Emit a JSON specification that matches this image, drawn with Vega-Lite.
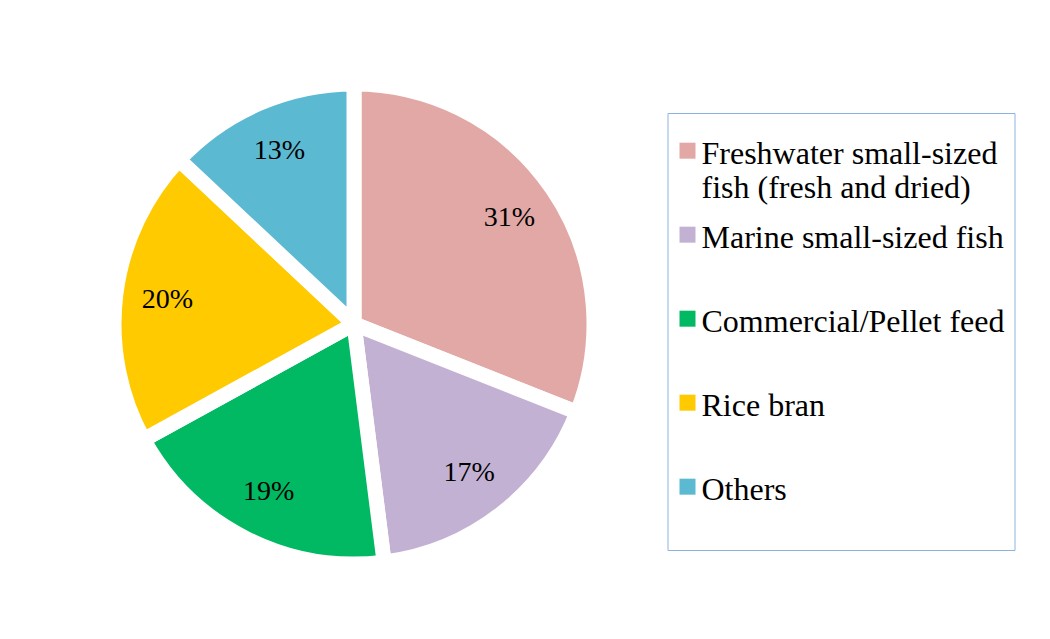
{
  "$schema": "https://vega.github.io/schema/vega-lite/v6.json",
  "autosize": "none",
  "padding": {"left": 0, "top": 0, "right": 342, "bottom": 0},
  "width": 708,
  "height": 648,
  "background": "white",
  "config": {"view": {"stroke": null}},
  "data": {
    "values": [
      {"category": "Freshwater small-sized fish (fresh and dried)", "share": 0.31, "order": 1},
      {"category": "Marine small-sized fish", "share": 0.17, "order": 2},
      {"category": "Commercial/Pellet feed", "share": 0.19, "order": 3},
      {"category": "Rice bran", "share": 0.20, "order": 4},
      {"category": "Others", "share": 0.13, "order": 5}
    ]
  },
  "encoding": {
    "theta": {"field": "share", "type": "quantitative", "stack": true},
    "order": {"field": "order", "type": "quantitative"}
  },
  "layer": [
    {
      "mark": {"type": "arc", "outerRadius": 240, "stroke": "white", "strokeWidth": 15},
      "encoding": {
        "color": {
          "field": "category",
          "type": "nominal",
          "scale": {
            "domain": ["Freshwater small-sized fish (fresh and dried)", "Marine small-sized fish", "Commercial/Pellet feed", "Rice bran", "Others"],
            "range": ["#E1A8A6", "#C3B1D3", "#00B962", "#FFCA00", "#5BB9D2"]
          },
          "legend": {
            "title": null,
            "orient": "none",
            "legendX": 667.5,
            "legendY": 113,
            "padding": 10,
            "strokeColor": "#8DB3E2",
            "fillColor": "white",
            "symbolType": "M-1,0.46H1V2.46H-1Z",
            "symbolSize": 256,
            "symbolStrokeWidth": 0,
            "symbolOpacity": 1,
            "symbolOffset": -6,
            "labelFont": "Liberation Serif",
            "labelFontSize": 32,
            "labelColor": "black",
            "labelLimit": 400,
            "labelOffset": -2,
            "labelBaseline": "top",
            "labelLineHeight": 35,
            "gridAlign": "all",
            "rowPadding": 3,
            "labelExpr": "datum.label == 'Freshwater small-sized fish (fresh and dried)' ? ['Freshwater small-sized', 'fish (fresh and dried)'] : [datum.label, '']"
          }
        }
      }
    },
    {
      "mark": {"type": "text", "radius": 188, "font": "Liberation Serif", "fontSize": 28, "color": "black"},
      "encoding": {
        "text": {"field": "share", "type": "quantitative", "format": ".0%"}
      }
    }
  ]
}
